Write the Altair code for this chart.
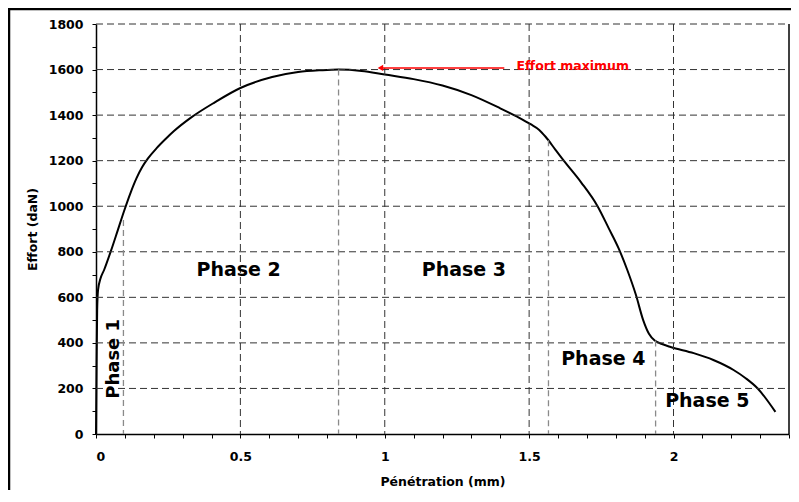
import altair as alt
import pandas as pd

# ---- data ----
pen_x = [0, 0.002, 0.004, 0.007, 0.015, 0.028, 0.052, 0.075, 0.097, 0.12, 0.14, 0.16,
         0.18, 0.21, 0.24, 0.27, 0.33, 0.41, 0.50, 0.61, 0.70, 0.78, 0.84, 0.92, 1.00,
         1.10, 1.20, 1.30, 1.40, 1.46, 1.505, 1.535, 1.557, 1.59, 1.62, 1.68, 1.737,
         1.775, 1.81, 1.84, 1.87, 1.895, 1.915, 1.935, 1.96, 1.99, 2.07, 2.138, 2.208,
         2.25, 2.29, 2.353]
effort = [0, 300, 540, 632, 680, 720, 805, 893, 978, 1060, 1122, 1172,
          1210, 1255, 1294, 1330, 1390, 1455, 1519, 1567, 1589, 1597, 1600, 1594, 1578,
          1558, 1530, 1488, 1430, 1392, 1360, 1335, 1305, 1250, 1200, 1105, 1000,
          905, 815, 720, 610, 500, 440, 410, 395, 382, 355, 325, 281,
          245, 202, 97]

grid_y = [200, 400, 600, 800, 1000, 1200, 1400, 1600, 1800]
grid_x = [0.5, 1.0, 1.5, 2.0]

phase_x = [0.095, 0.84, 1.567, 1.938]
phase_top = [940, 1600, 1290, 410]

label_names = ["Phase 2", "Phase 3", "Phase 4", "Phase 5"]
label_x = [0.494, 1.274, 1.757, 2.117]
label_y = [718, 718, 329, 146]

phase1_name = ["Phase 1"]
phase1_x = [0.063]
phase1_y = [330]

annot_text = ["Effort maximum"]
annot_x = [1.651]
annot_y = [1617]
arrow_x_start = [1.414]
arrow_x_end = [0.985]
arrow_y = [1607]

x_ticks = [round(i * 0.1, 1) for i in range(25)]
y_ticks = list(range(0, 1900, 100))

FONT = "DejaVu Sans"

xs = alt.Scale(domain=[0, 2.4], nice=False, zero=False)
ys = alt.Scale(domain=[0, 1800], nice=False)

curve_df = pd.DataFrame({"x": pen_x, "y": effort})
gy_df = pd.DataFrame({"y": grid_y})
gx_df = pd.DataFrame({"x": grid_x})
ph_df = pd.DataFrame({"x": phase_x, "top": phase_top})
lab_df = pd.DataFrame({"t": label_names, "x": label_x, "y": label_y})
p1_df = pd.DataFrame({"t": phase1_name, "x": phase1_x, "y": phase1_y})
an_df = pd.DataFrame({"t": annot_text, "x": annot_x, "y": annot_y})
ar_df = pd.DataFrame({"x": arrow_x_start, "x2": arrow_x_end, "y": arrow_y})
edge_df = pd.DataFrame({"x": [2.4], "y": [0], "y2": [1800]})

x_axis = alt.Axis(values=x_ticks, grid=False, title="Pénétration (mm)", labelOverlap=False,
                  labelExpr="abs(round(datum.value*10)) % 5 == 0 ? format(datum.value, '~g') : ''",
                  labelPadding=12, titlePadding=13)
y_axis = alt.Axis(values=y_ticks, grid=False, title="Effort (daN)", labelOverlap=False,
                  labelExpr="datum.value % 200 == 0 ? format(datum.value, 'd') : ''",
                  labelPadding=9, titlePadding=9)


def X(field):
    return alt.X(field, scale=xs, axis=x_axis)


def Y(field):
    return alt.Y(field, scale=ys, axis=y_axis)


curve = alt.Chart(curve_df).mark_line(color="black", strokeWidth=2, interpolate="monotone").encode(
    x=X("x:Q"), y=Y("y:Q"))

hgrid = alt.Chart(gy_df).mark_rule(color="#333333", strokeWidth=1, strokeDash=[7, 4]).encode(
    y=Y("y:Q"), x=alt.value(0), x2=alt.value(693))

vgrid = alt.Chart(gx_df).mark_rule(color="#333333", strokeWidth=1, strokeDash=[7, 4]).encode(
    x=X("x:Q"), y=alt.value(0), y2=alt.value(410))

phases = alt.Chart(ph_df).mark_rule(color="#8a8a8a", strokeWidth=1.3, strokeDash=[6, 4]).encode(
    x=X("x:Q"), y=Y("top:Q"), y2=alt.value(410))

right_edge = alt.Chart(edge_df).mark_rule(color="black", strokeWidth=1.5).encode(
    x=X("x:Q"), y=Y("y:Q"), y2="y2:Q")

labels = alt.Chart(lab_df).mark_text(font=FONT, fontWeight="bold", fontSize=19, color="black",
                                     align="center", baseline="middle").encode(
    x=X("x:Q"), y=Y("y:Q"), text="t:N")

p1 = alt.Chart(p1_df).mark_text(font=FONT, fontWeight="bold", fontSize=18, color="black",
                                align="center", baseline="middle", angle=270).encode(
    x=X("x:Q"), y=Y("y:Q"), text="t:N")

annot = alt.Chart(an_df).mark_text(font=FONT, fontWeight="bold", fontSize=12.5, color="#ff0000",
                                   align="center", baseline="middle").encode(
    x=X("x:Q"), y=Y("y:Q"), text="t:N")

arrow_line = alt.Chart(ar_df).mark_rule(color="#ff0000", strokeWidth=1.5).encode(
    x=X("x:Q"), x2="x2:Q", y=Y("y:Q"))

arrow_head = alt.Chart(ar_df).mark_point(shape="triangle-left", filled=True, color="#ff0000",
                                         size=40, opacity=1).encode(
    x=X("x2:Q"), y=Y("y:Q"))

frame_left = alt.Chart(edge_df).mark_rule(color="black", strokeWidth=2.5).encode(
    x=alt.value(-87), y=alt.value(-15), y2=alt.value(480))
frame_top = alt.Chart(edge_df).mark_rule(color="black", strokeWidth=2.5).encode(
    x=alt.value(-88), x2=alt.value(703), y=alt.value(-15))

chart = alt.layer(
    curve, hgrid, vgrid, phases, right_edge, labels, p1, annot, arrow_line, arrow_head,
    frame_left, frame_top
).properties(
    width=693, height=410,
    autosize=alt.AutoSizeParams(type="none"),
    padding={"left": 88, "top": 16, "right": 2, "bottom": 56},
    background="white",
).configure_view(stroke=None).configure_axis(
    domainColor="black", domainWidth=1.5, tickColor="black", tickSize=4, tickWidth=1,
    labelFont=FONT, labelFontWeight="bold", labelFontSize=12.5, labelColor="black",
    titleFont=FONT, titleFontWeight="bold", titleFontSize=12.5, titleColor="black",
)

chart.save("out.html", embed_options={"renderer": "svg", "actions": False})
